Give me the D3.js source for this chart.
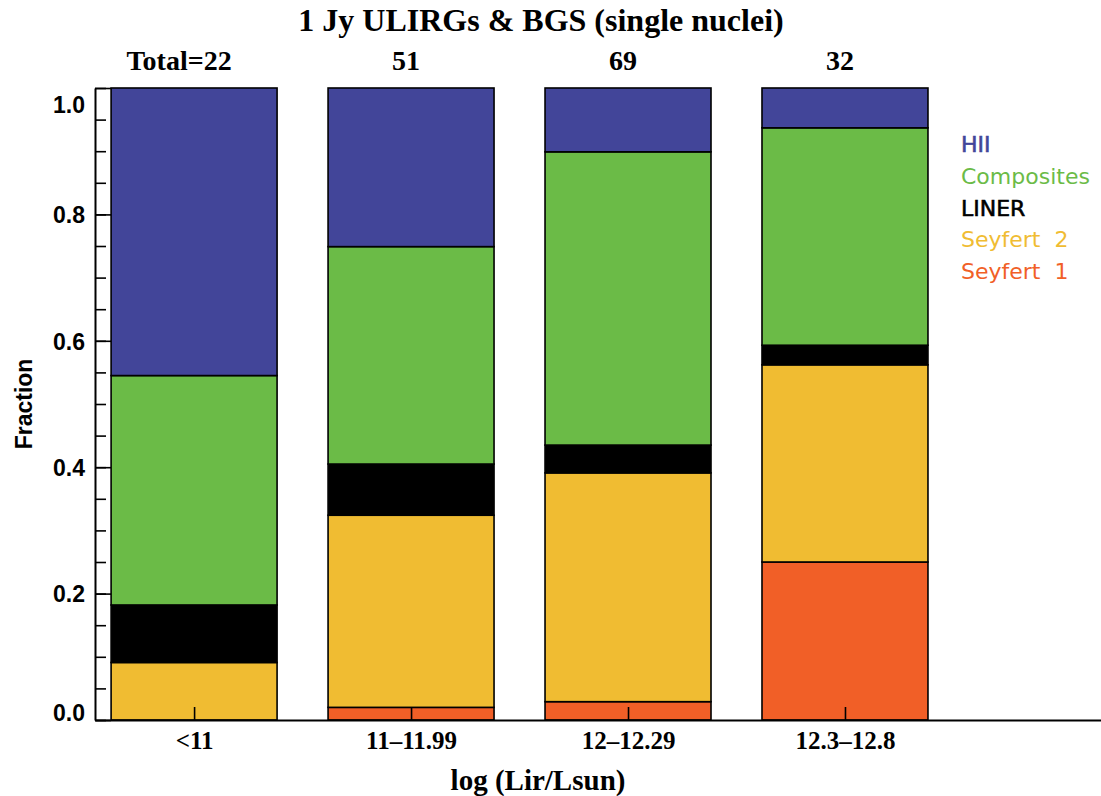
<!DOCTYPE html>
<html>
<head>
<meta charset="utf-8">
<script src="https://cdn.jsdelivr.net/npm/d3@7"></script>
<style>
  html, body { margin: 0; padding: 0; background: #ffffff; }
  svg { display: block; }
</style>
</head>
<body>
<svg id="chart" width="1101" height="796"></svg>
<script>
// Luminosity bins and the number of single-nucleus galaxies in each
const bins = ["<11", "11\u201311.99", "12\u201312.29", "12.3\u201312.8"];
const totals = [22, 51, 69, 32];

// Spectral classes, stacked from the bottom up
const classes = ["Seyfert 1", "Seyfert 2", "LINER", "Composites", "HII"];
const classColors = ["#f15f27", "#f0bc32", "#000000", "#6bbb47", "#424599"];

// Fraction of each bin in every class
const seyfert1 = [0.000, 0.020, 0.029, 0.250];
const seyfert2 = [0.091, 0.304, 0.362, 0.312];
const liner    = [0.091, 0.081, 0.044, 0.031];
const composites = [0.363, 0.344, 0.464, 0.344];
const hii      = [0.455, 0.251, 0.101, 0.063];

const yTicksMajor = [0.0, 0.2, 0.4, 0.6, 0.8, 1.0];
const yTicksMinor = d3.range(0, 1.0001, 0.05);

const rows = bins.map((b, i) => ({
  bin: b, index: i, total: totals[i],
  "Seyfert 1": seyfert1[i], "Seyfert 2": seyfert2[i], "LINER": liner[i],
  "Composites": composites[i], "HII": hii[i]
}));

const svg = d3.select("#chart");

const x = d3.scaleLinear().domain([-0.4567, 4.18]).range([95, 1101]);
const y = d3.scaleLinear().domain([0, 1]).range([720, 88]);
const barWidth = 0.765; // in bin units

const stack = d3.stack().keys(classes);
const layers = stack(rows);

const color = d3.scaleOrdinal().domain(classes).range(classColors);

// Stacked bars
svg.append("g")
  .selectAll("g")
  .data(layers)
  .join("g")
    .attr("fill", d => color(d.key))
  .selectAll("rect")
  .data(d => d.filter(s => s[1] - s[0] > 0))
  .join("rect")
    .attr("x", d => x(d.data.index - barWidth / 2))
    .attr("width", d => x(barWidth) - x(0))
    .attr("y", d => y(d[1]))
    .attr("height", d => y(d[0]) - y(d[1]))
    .attr("stroke", "#000")
    .attr("stroke-width", 1.6);

// Y axis: minor ticks, then major ticks with labels
svg.append("g")
  .attr("transform", "translate(95,0)")
  .call(d3.axisLeft(y).tickValues(yTicksMinor).tickSizeInner(-11).tickSizeOuter(0).tickFormat(""))
  .call(g => g.select(".domain").remove())
  .call(g => g.selectAll(".tick line").attr("stroke-width", 1.6));

const yAxis = svg.append("g")
  .attr("transform", "translate(95,0)")
  .call(d3.axisLeft(y).tickValues(yTicksMajor).tickSizeInner(-16).tickSizeOuter(0)
    .tickPadding(10).tickFormat(d3.format(".1f")));
yAxis.select(".domain").attr("stroke-width", 2);
yAxis.selectAll(".tick line").attr("stroke-width", 1.6);
yAxis.selectAll(".tick text")
  .attr("font-family", "'Liberation Sans', Arial, sans-serif")
  .attr("font-weight", "bold")
  .attr("font-size", 23)
  .attr("fill", "#000")
  .attr("dy", d => d === 1 ? "1.05em" : d === 0 ? "0.0em" : "0.36em");

// X axis along the bottom
const xAxis = svg.append("g")
  .attr("transform", "translate(0,720)")
  .call(d3.axisBottom(x).tickValues(d3.range(bins.length)).tickSizeInner(-13).tickSizeOuter(0)
    .tickPadding(11).tickFormat(i => bins[i]));
xAxis.select(".domain").attr("stroke-width", 2);
xAxis.selectAll(".tick line").attr("stroke-width", 1.6);
xAxis.selectAll(".tick text")
  .attr("font-family", "'Liberation Serif', 'Times New Roman', serif")
  .attr("font-weight", "bold")
  .attr("font-size", 25)
  .attr("fill", "#000");

// Sample size above each bar
svg.append("g")
  .selectAll("text")
  .data(rows)
  .join("text")
    .attr("x", d => x(d.index) + (d.index === 0 ? -15 : -5))
    .attr("y", 70)
    .attr("text-anchor", "middle")
    .attr("font-family", "'Liberation Serif', 'Times New Roman', serif")
    .attr("font-weight", "bold")
    .attr("font-size", 28)
    .text(d => d.index === 0 ? "Total=" + d.total : d.total);

// Title
svg.append("text")
  .attr("x", 541).attr("y", 31)
  .attr("text-anchor", "middle")
  .attr("font-family", "'Liberation Serif', 'Times New Roman', serif")
  .attr("font-weight", "bold")
  .attr("font-size", 32)
  .text("1 Jy ULIRGs & BGS (single nuclei)");

// Axis titles
svg.append("text")
  .attr("x", 538).attr("y", 790)
  .attr("text-anchor", "middle")
  .attr("font-family", "'Liberation Serif', 'Times New Roman', serif")
  .attr("font-weight", "bold")
  .attr("font-size", 29)
  .text("log (Lir/Lsun)");

svg.append("text")
  .attr("transform", "translate(32,404) rotate(-90)")
  .attr("text-anchor", "middle")
  .attr("font-family", "'Liberation Sans', Arial, sans-serif")
  .attr("font-weight", "bold")
  .attr("font-size", 23)
  .text("Fraction");

// Legend, top class first
const legendOrder = classes.slice().reverse();
svg.append("g")
  .selectAll("text")
  .data(legendOrder)
  .join("text")
    .attr("x", 961)
    .attr("y", (d, i) => 152 + i * 31.8)
    .attr("font-family", "'DejaVu Sans', sans-serif")
    .attr("font-size", 22)
    .attr("fill", d => color(d))
    .attr("stroke", d => (d === "HII" || d === "LINER") ? color(d) : "none")
    .attr("stroke-width", 0.6)
    .text(d => d.replace(" ", "\u00a0 "));
</script>
</body>
</html>
